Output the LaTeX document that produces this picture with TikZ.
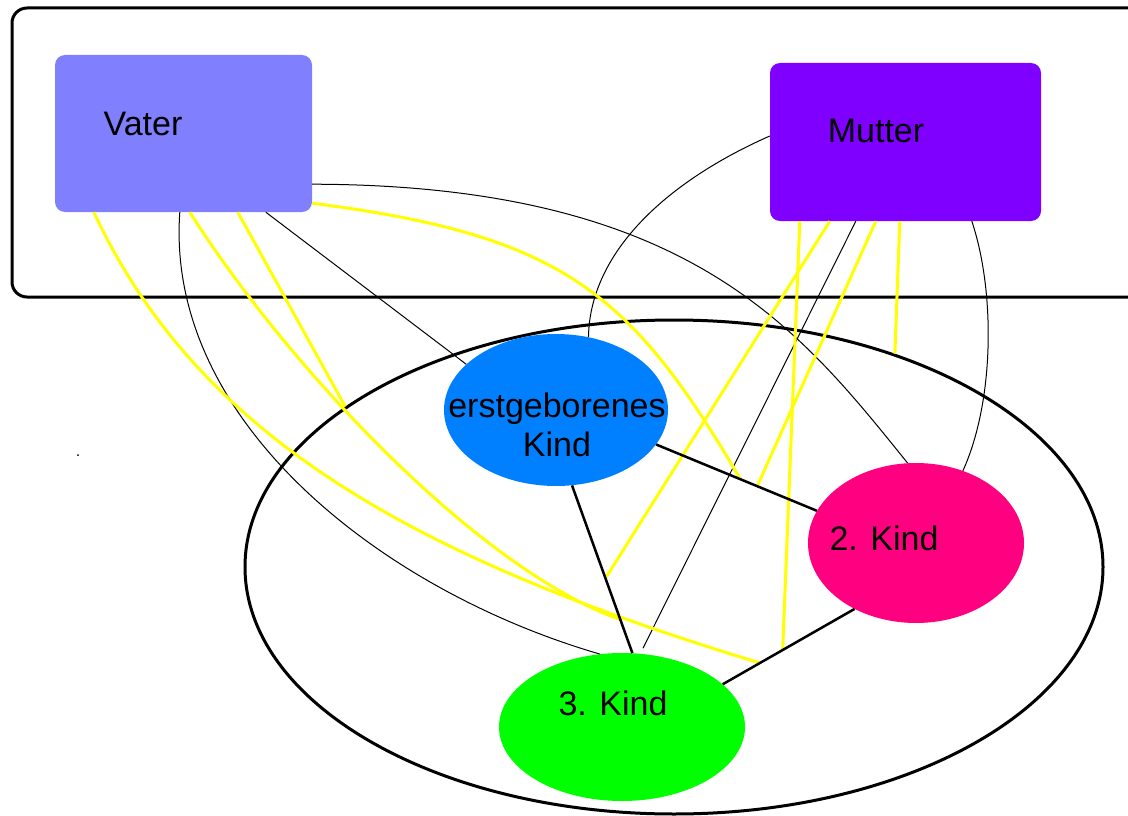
\documentclass[tikz,border=0pt]{standalone}
\usepackage{fontspec}
\setmainfont{Liberation Sans}
\usetikzlibrary{shapes.geometric}
\definecolor{vatercol}{HTML}{8080FF}
\definecolor{muttercol}{HTML}{8000FF}
\definecolor{ecol}{HTML}{0080FF}
\definecolor{ktwocol}{HTML}{FF0080}
\definecolor{kthreecol}{HTML}{00FF00}
\definecolor{yel}{HTML}{FFFF00}
\tikzset{
  pbox/.style={rectangle, rounded corners=10pt, inner sep=0pt, draw=none},
  kid/.style={ellipse, inner sep=0pt, draw=none},
  grpstyle/.style={ellipse, inner sep=0pt, draw=black, line width=3pt},
  lbl/.style={inner sep=0pt, font=\fontsize{34}{39}\selectfont, align=center},
  thinline/.style={draw=black, line width=1pt},
  sib/.style={draw=black, line width=2.5pt},
  yline/.style={draw=yel, line width=3pt},
  frame/.style={draw=black, line width=3pt, rounded corners=15pt}
}
\begin{document}
\begin{tikzpicture}[x=1pt, y=-1pt]
\useasboundingbox (0,0) rectangle (1128,816);
% outer frame (runs off the right edge)
\draw[frame] (1128,8) -- (12,8) -- (12,297) -- (1128,297);
% stray dot
\fill[black] (78,455) circle (1pt);
% parents
\node[pbox, fill=vatercol, minimum width=257pt, minimum height=157pt] (v) at (183.5,133.5) {};
\node[lbl] (vt) at (143,124) {Vater};
\node[pbox, fill=muttercol, minimum width=271pt, minimum height=158pt] (m) at (905.5,142) {};
\node[lbl] (mt) at (876,130.5) {Mutter};
% children group
\node[grpstyle, minimum width=858pt, minimum height=494pt] (grp) at (674,567) {};
\node[kid, fill=ecol, minimum width=224pt, minimum height=152pt] (e) at (556,410) {};
\node[lbl] (et) at (557,425) {erstgeborenes\\Kind};
\node[kid, fill=ktwocol, minimum width=216pt, minimum height=160pt] (k2) at (916,543) {};
\node[lbl] (k2t) at (884,538) {2. Kind};
\node[kid, fill=kthreecol, minimum width=246pt, minimum height=148pt] (k3) at (622,727) {};
\node[lbl] (k3t) at (613,703) {3. Kind};
% sibling relations (coordinates only, drawn later)
\path (e.-19.3) -- (k2.162.4) coordinate[pos=0.524] (s7v) coordinate[pos=0.629] (s7m);
\path (e.-78.7) -- (k3.82.8) coordinate[pos=0.80] (s8v) coordinate[pos=0.554] (s8m);
\path (k2.227.8) -- (k3.23.2) coordinate[pos=0.717] (s9v) coordinate[pos=0.545] (s9m);
% thin black parent-child lines
\draw[thinline] ([yshift=28pt]v.south east) .. controls (690,185) and (800,330) .. (k2.96.5);
\draw[thinline] ([xshift=211pt]v.south west) -- (e.153.4);
\draw[thinline] ([xshift=125pt]v.south west) .. controls (165,420) and (380,590) .. (k3.107);
\draw[thinline] ([yshift=6pt]m.west) .. controls (670,180) and (590,250) .. (e.66.3);
\draw[thinline, shorten >=6pt] ([xshift=86pt]m.south west) -- (k3.76.6);
\draw[thinline] ([xshift=202pt]m.south west) .. controls (995,290) and (995,400) .. (k2.57.4);
% yellow lines
\draw[yline] ([xshift=39pt]v.south west) .. controls (200,440) and (420,560) .. (s9v);
\draw[yline] ([xshift=135pt]v.south west) .. controls (290,370) and (480,570) .. (s8v);
\draw[yline] ([xshift=183pt]v.south west) -- (grp.154.8);
\draw[yline] ([yshift=9pt]v.south east) .. controls (560,235) and (630,290) .. (s7v);
\draw[yline] ([xshift=30pt]m.south west) -- (s9m);
\draw[yline] ([xshift=60pt]m.south west) -- (s8m);
\draw[yline] ([xshift=106pt]m.south west) -- (s7m);
\draw[yline] ([xshift=130pt]m.south west) -- (grp.44.6);
% sibling lines
\draw[sib] (e.-19.3) -- (k2.162.4);
\draw[sib] (e.-78.7) -- (k3.82.8);
\draw[sib] (k2.227.8) -- (k3.23.2);
\end{tikzpicture}
\end{document}
